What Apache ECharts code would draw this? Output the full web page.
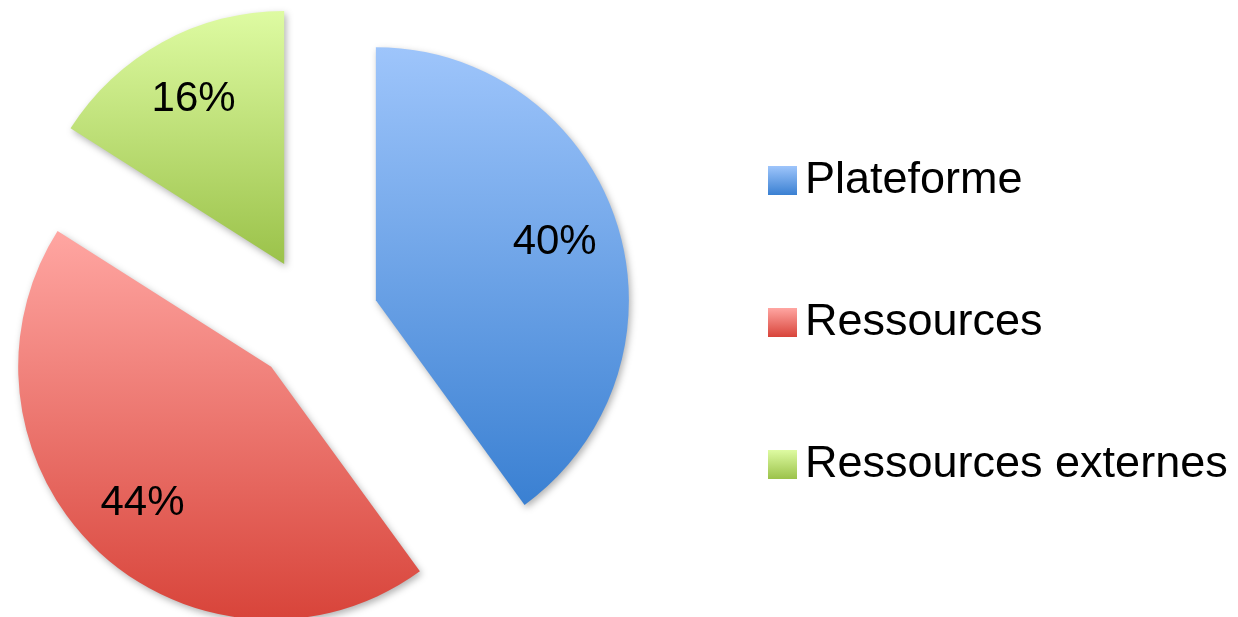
<!DOCTYPE html>
<html>
<head>
<meta charset="utf-8">
<script src="https://cdn.jsdelivr.net/npm/echarts@6/dist/echarts.min.js"></script>
<style>
html,body{margin:0;padding:0;background:#fff;}
#chart{width:1238px;height:617px;}
</style>
</head>
<body>
<div id="chart"></div>
<script>
const categories = ['Plateforme', 'Ressources', 'Ressources externes'];
const values = [40, 44, 16];
const topColors = ['#9EC5FB', '#FFA6A2', '#DEFBA2'];
const bottomColors = ['#3A80D2', '#D8443A', '#9BC24A'];

const chart = echarts.init(document.getElementById('chart'), null, {renderer: 'canvas'});
const FONT = '"Liberation Sans", Arial, sans-serif';

function grad(i) {
  return new echarts.graphic.LinearGradient(0, 0, 0, 1, [
    {offset: 0, color: topColors[i]},
    {offset: 1, color: bottomColors[i]}
  ]);
}

const sliceData = categories.map((c, i) => ({
  name: c, value: values[i], selected: true,
  itemStyle: {color: grad(i)}
}));
const labelData = categories.map((c, i) => ({
  name: c, value: values[i], selected: true
}));

chart.setOption({
  animation: false,
  backgroundColor: '#ffffff',
  legend: {
    orient: 'vertical',
    left: 763,
    top: 153,
    icon: 'rect',
    itemWidth: 29,
    itemHeight: 29,
    itemGap: 97,
    selectedMode: false,
    data: categories,
    textStyle: {fontFamily: FONT, fontSize: 45, color: '#000', lineHeight: 45, padding: [0, 0, 0, 3]}
  },
  series: [
    {
      type: 'pie',
      center: [315, 320],
      radius: [0, 253],
      startAngle: 90,
      clockwise: true,
      selectedMode: 'multiple',
      selectedOffset: 64,
      emphasis: {disabled: true},
      label: {show: false},
      labelLine: {show: false},
      itemStyle: {
        borderWidth: 0,
        shadowBlur: 7,
        shadowOffsetX: 2,
        shadowOffsetY: 3,
        shadowColor: 'rgba(0,0,0,0.3)'
      },
      data: sliceData
    },
    {
      type: 'pie',
      silent: true,
      center: [315, 320],
      radius: [0, 370],
      startAngle: 90,
      clockwise: true,
      selectedMode: 'multiple',
      selectedOffset: 64,
      emphasis: {disabled: true},
      itemStyle: {color: 'rgba(0,0,0,0)', borderWidth: 0},
      labelLine: {show: false},
      label: {
        show: true,
        position: 'inside',
        formatter: '{c}%',
        fontFamily: FONT,
        fontSize: 42,
        color: '#000'
      },
      data: labelData
    }
  ]
});
</script>
</body>
</html>
